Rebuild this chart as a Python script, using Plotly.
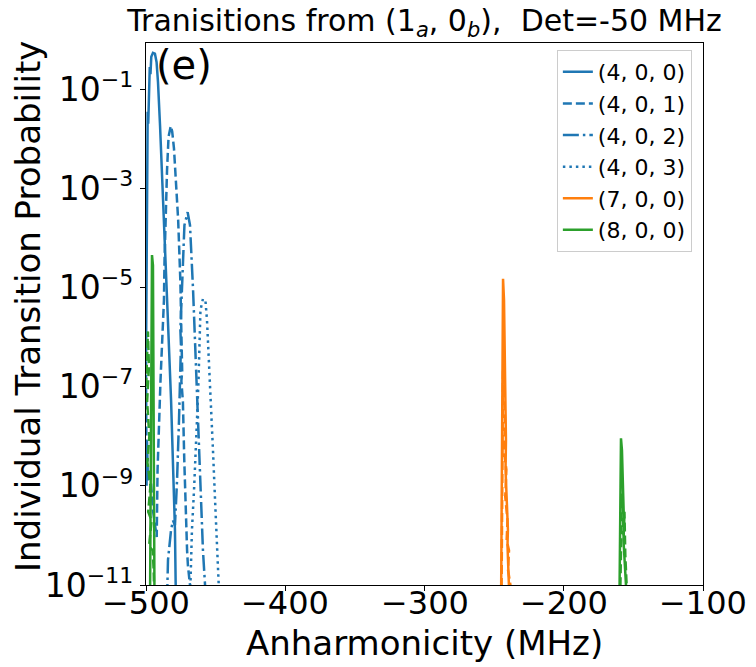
import plotly.graph_objects as go

# (4, 0, 0) - main peak near the left edge
x_400 = [-500.0, -499.3, -498.8, -498.4, -497.9, -497.3, -496.8, -496.2, -495.0, -493.6,
         -492.4, -491.4, -489.9, -487.1, -484.5, -482.0, -480.6, -480.0, -479.6, -479.2,
         -478.7, -478.3]
p_400 = [3.2e-7, 1.5e-2, 3.5e-2, 2.0e-2, 7.1e-2, 0.28, 0.20, 0.45, 0.54, 0.52,
         0.35, 0.14, 1.8e-2, 2.9e-4, 3.2e-6, 5.4e-8, 2.5e-9, 5.0e-10, 6.3e-10, 1.3e-10,
         1.1e-11, 2.5e-12]

# (4, 0, 1)
x_401 = [-500.0, -499.6, -499.3, -498.6, -497.1, -495.0, -492.3, -491.7, -490.7, -489.6,
         -488.5, -487.8, -487.1, -486.7, -486.0, -484.9, -483.8, -482.2, -481.2, -479.9,
         -476.9, -475.3, -474.6, -474.0, -474.6, -473.5, -472.5, -471.5, -470.5, -469.9,
         -468.4, -468.0]
p_401 = [3.2e-7, 1e-9, 8.3e-9, 1.3e-9, 2.1e-9, 3.2e-10, 9.3e-11, 2.1e-9, 2.1e-8, 1.3e-7,
         6.9e-7, 2.2e-6, 5.6e-6, 3.5e-5, 2.3e-4, 2.3e-3, 1.1e-2, 1.8e-2, 1.4e-2, 6.3e-3,
         2.3e-4, 1.3e-5, 1.2e-6, 2.0e-7, 1.3e-7, 5.0e-8, 3.2e-9, 2.5e-10, 5.0e-11, 2.5e-11,
         1.0e-11, 2.5e-12]

# (4, 0, 2)
x_402 = [-484.9, -484.2, -482.0, -480.6, -479.2, -477.7, -476.3, -475.6, -474.9, -475.3,
         -474.1, -473.4, -472.4, -470.1, -468.4, -466.2, -464.8, -463.4, -461.9, -460.5,
         -459.1, -457.6, -457.2]
p_402 = [5.0e-12, 3.2e-11, 1.3e-10, 2.0e-10, 1.6e-10, 1.3e-9, 2.1e-8, 1.3e-7, 6.9e-7, 1.4e-6,
         8.9e-6, 5.6e-5, 1.8e-4, 3.3e-4, 1.8e-4, 8.9e-6, 8.7e-7, 6.8e-8, 3.3e-9, 3.2e-10,
         5.0e-11, 1.0e-11, 2.5e-12]

# (4, 0, 3)
x_403 = [-468.4, -467.0, -465.5, -464.1, -463.4, -462.3, -461.6, -460.9, -459.1, -457.3,
         -456.2, -454.8, -453.3, -451.9, -450.4, -449.0, -447.6, -447.3]
p_403 = [5.0e-12, 1.3e-10, 8.3e-10, 5.2e-9, 2.1e-8, 1.3e-7, 8.7e-7, 3.5e-6, 5.9e-6, 5.4e-6,
         2.2e-6, 3.5e-7, 5.4e-8, 5.2e-9, 5.1e-10, 7.9e-11, 1.4e-11, 5.0e-12]

# (7, 0, 0) and a weaker companion drawn dashed in the same colour
x_700 = [-245.0, -244.3, -243.6, -242.9, -242.2, -241.5, -241.8, -240.8, -240.1, -240.4,
         -239.3, -239.0]
p_700 = [5e-12, 2.1e-8, 1.5e-5, 5.6e-6, 2.1e-7, 8.3e-9, 2.1e-9, 5.1e-10, 1.3e-10, 6.3e-11,
         1.0e-11, 5e-12]
x_701 = [-244.7, -243.6, -242.2, -242.9, -241.2, -242.0, -240.4, -241.0, -239.3, -240.0,
         -238.3, -237.6]
p_701 = [5e-12, 2.1e-7, 2.1e-8, 5e-9, 2.1e-9, 6e-10, 2.0e-10, 8e-11, 5e-11, 2e-11,
         1e-11, 5e-12]

# (8, 0, 0) and its dashed companion
x_800 = [-497.1, -496.4, -495.7, -495.0, -494.7, -494.3, -493.9,
         -160.0, -159.3, -158.9, -158.2, -157.5, -156.8, -157.1, -156.1, -155.3, -155.0]
p_800 = [5e-12, 1.4e-6, 4.5e-5, 2.8e-5, 5.4e-8, 5.1e-10, 5e-12,
         5e-12, 5.1e-10, 9.1e-9, 5.2e-9, 5.1e-10, 2.0e-10, 7.9e-11, 3.2e-11, 1e-11, 5e-12]
x_801 = [-500.0, -499.3, -498.6, -497.9, -499.2, -497.6, -499.0, -496.8, -498.4, -496.0,
         -497.8, -495.2, -494.5, -494.0,
         -159.5, -158.2, -157.0, -156.4, -155.8, -154.7, -154.5]
p_801 = [1e-7, 6.3e-7, 1.3e-6, 2.5e-7, 5e-8, 1e-8, 3e-9, 1e-9, 3e-10, 2e-10,
         6e-11, 5e-11, 2e-11, 5e-12,
         5e-12, 7e-10, 1e-10, 3e-10, 4e-11, 8e-12, 5e-12]

x_ticks = [-500, -400, -300, -200, -100]
y_ticks = [1e-11, 1e-9, 1e-7, 1e-5, 1e-3, 1e-1]
y_tick_powers = ['−11', '−9', '−7', '−5', '−3', '−1']

BLUE, ORANGE, GREEN = '#1f77b4', '#ff7f0e', '#2ca02c'
LW = 2.5
DASH = '9px,4px'
DASHDOT = '16px,4px,2.5px,4px'
DOT = '2.5px,4px'

series = [
    (x_400, p_400, '(4, 0, 0)', BLUE, 'solid', True),
    (x_401, p_401, '(4, 0, 1)', BLUE, DASH, True),
    (x_402, p_402, '(4, 0, 2)', BLUE, DASHDOT, True),
    (x_403, p_403, '(4, 0, 3)', BLUE, DOT, True),
    (x_700, p_700, '(7, 0, 0)', ORANGE, 'solid', True),
    (x_701, p_701, '(7, 0, 1)', ORANGE, DASH, False),
    (x_800, p_800, '(8, 0, 0)', GREEN, 'solid', True),
    (x_801, p_801, '(8, 0, 1)', GREEN, DASH, False),
]

fig = go.Figure()
for xs, ps, name, color, dash, show in series:
    fig.add_trace(go.Scatter(x=xs, y=ps, mode='lines', name=name, showlegend=show,
                             line=dict(color=color, width=LW, dash=dash)))

FONT = 'DejaVu Sans'
axis_style = dict(showline=True, mirror=True, linecolor='black', linewidth=1.2,
                  ticks='outside', ticklen=5, tickwidth=1.2, tickcolor='black',
                  showgrid=False, zeroline=False)

# small superscript like matplotlib's mathtext
y_ticktext = ['10<sup><span style="font-size:22px">%s</span></sup>' % p for p in y_tick_powers]

fig.update_layout(
    width=756, height=667,
    margin=dict(l=146, r=53, t=43, b=82),
    plot_bgcolor='white', paper_bgcolor='white',
    font=dict(family=FONT, color='black'),
    title=dict(text='Tranisitions from (1<sub><i>a</i></sub>, 0<sub><i>b</i></sub>),\u00a0 Det=-50 MHz',
               x=0.5, xref='paper', xanchor='center',
               y=1 - 20 / 667, yref='container', yanchor='middle',
               font=dict(family=FONT, size=30, color='black')),
    xaxis=dict(range=[-500, -100], tickvals=x_ticks, showticklabels=False,
               **axis_style),
    yaxis=dict(type='log', range=[-11, -0.07], tickvals=y_ticks, ticktext=y_ticktext,
               tickfont=dict(family=FONT, size=33, color='black'),
               **axis_style),
    legend=dict(x=0.98, y=0.987, xanchor='right', yanchor='top',
                bgcolor='rgba(255,255,255,0.8)', bordercolor='#cccccc', borderwidth=1,
                font=dict(family=FONT, size=22, color='black')),
    showlegend=True,
)

# x tick labels placed a little closer to the axis than plotly's default
for xv in x_ticks:
    fig.add_annotation(text=('−%d' % -xv) if xv < 0 else str(xv), x=xv, xref='x',
                       y=(585 - 603) / 542, yref='paper', xanchor='center', yanchor='middle',
                       showarrow=False, font=dict(family=FONT, size=32, color='black'))

fig.add_annotation(text='Anharmonicity (MHz)', xref='paper', yref='paper',
                   x=0.5, y=(585 - 643) / 542, xanchor='center', yanchor='middle',
                   showarrow=False, font=dict(family=FONT, size=34, color='black'))
fig.add_annotation(text='Individual Transition Probability', textangle=-90,
                   xref='paper', yref='paper', x=(28 - 146) / 557, y=(585 - 307) / 542,
                   xanchor='center', yanchor='middle', showarrow=False,
                   font=dict(family=FONT, size=34, color='black'))
fig.add_annotation(text='(e)', xref='paper', yref='paper', x=0.015, y=1.005,
                   xanchor='left', yanchor='top', showarrow=False,
                   font=dict(family=FONT, size=40, color='black'))

fig.write_html('out.html', config={'displayModeBar': False},
               post_script="document.body.style.margin='0';")
